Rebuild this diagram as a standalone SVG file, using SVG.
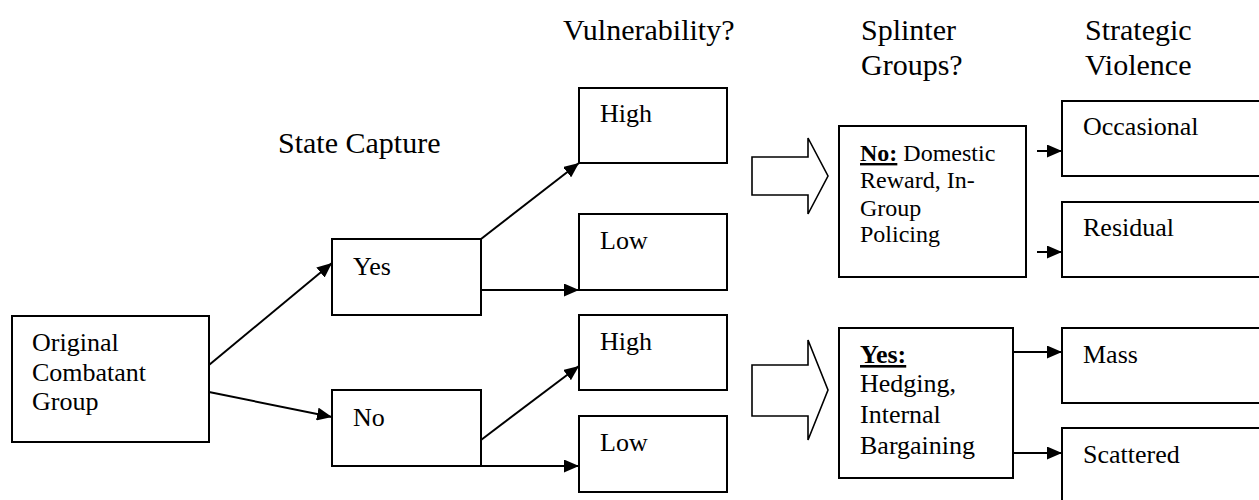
<svg xmlns="http://www.w3.org/2000/svg" width="1259" height="500" viewBox="0 0 1259 500" font-family="'Liberation Serif', 'DejaVu Serif', serif">
  <style>
    .box { fill: #fff; stroke: #000; stroke-width: 2; }
    .bigarrow { fill: #fff; stroke: #000; stroke-width: 1.6; stroke-linejoin: miter; }
    .conn { fill: none; stroke: #000; stroke-width: 2; marker-end: url(#head); }
    text { fill: #000; }
    .hd { font-size: 30px; }
    .lb { font-size: 26px; }
    .sm { font-size: 24px; }
    .key { font-weight: bold; text-decoration: underline; }
  </style>
  <defs>
    <marker id="head" markerUnits="userSpaceOnUse" markerWidth="16" markerHeight="13" refX="15" refY="6.5" orient="auto">
      <path d="M0,0 L15,6.5 L0,13 z" fill="#000"/>
    </marker>
  </defs>

  <!-- column headings -->
  <g id="headings">
    <text class="hd" x="278" y="153">State Capture</text>
    <text class="hd" x="563" y="40">Vulnerability?</text>
    <text class="hd" x="861" y="40">Splinter</text>
    <text class="hd" x="861" y="75">Groups?</text>
    <text class="hd" x="1085" y="40">Strategic</text>
    <text class="hd" x="1085" y="75">Violence</text>
  </g>

  <!-- connectors -->
  <g id="connectors">
    <line class="conn" x1="209" y1="365" x2="332" y2="263"/>
    <line class="conn" x1="209" y1="392" x2="332" y2="417"/>
    <line class="conn" x1="481" y1="239" x2="579" y2="163"/>
    <line class="conn" x1="481" y1="290" x2="579" y2="290"/>
    <line class="conn" x1="481" y1="440" x2="579" y2="366"/>
    <line class="conn" x1="481" y1="466" x2="579" y2="466"/>
    <polygon class="bigarrow" points="752,157 808,157 808,138 828,176 808,214 808,195 752,195"/>
    <polygon class="bigarrow" points="752,365 808,365 808,340 828,390 808,440 808,416 752,416"/>
    <line class="conn" x1="1037" y1="151" x2="1062" y2="151"/>
    <line class="conn" x1="1037" y1="252" x2="1062" y2="252"/>
    <line class="conn" x1="1013" y1="352" x2="1062" y2="352"/>
    <line class="conn" x1="1013" y1="453" x2="1062" y2="453"/>
  </g>

  <g id="original">
    <rect class="box" x="12" y="316" width="197" height="126"/>
    <text class="lb" x="32" y="351">Original</text>
    <text class="lb" x="32" y="381">Combatant</text>
    <text class="lb" x="32" y="410">Group</text>
  </g>

  <g id="capture-yes">
    <rect class="box" x="332" y="239" width="149" height="76"/>
    <text class="lb" x="353" y="275">Yes</text>
  </g>
  <g id="capture-no">
    <rect class="box" x="332" y="390" width="149" height="76"/>
    <text class="lb" x="353" y="426">No</text>
  </g>

  <g id="yes-high">
    <rect class="box" x="579" y="88" width="148" height="75"/>
    <text class="lb" x="600" y="122">High</text>
  </g>
  <g id="yes-low">
    <rect class="box" x="579" y="214" width="148" height="76"/>
    <text class="lb" x="600" y="249">Low</text>
  </g>
  <g id="no-high">
    <rect class="box" x="579" y="315" width="148" height="75"/>
    <text class="lb" x="600" y="350">High</text>
  </g>
  <g id="no-low">
    <rect class="box" x="579" y="416" width="148" height="76"/>
    <text class="lb" x="600" y="451">Low</text>
  </g>

  <g id="splinter-no">
    <rect class="box" x="839" y="126" width="187" height="151"/>
    <text class="sm" x="860" y="161"><tspan class="key">No:</tspan> Domestic</text>
    <text class="sm" x="860" y="188">Reward, In-</text>
    <text class="sm" x="860" y="216">Group</text>
    <text class="sm" x="860" y="242">Policing</text>
  </g>
  <g id="splinter-yes">
    <rect class="box" x="839" y="328" width="174" height="150"/>
    <text class="lb" x="860" y="363"><tspan class="key">Yes:</tspan></text>
    <text class="lb" x="860" y="392">Hedging,</text>
    <text class="lb" x="860" y="423">Internal</text>
    <text class="lb" x="860" y="454">Bargaining</text>
  </g>

  <g id="occasional">
    <rect class="box" x="1062" y="101" width="210" height="75"/>
    <text class="lb" x="1083" y="135">Occasional</text>
  </g>
  <g id="residual">
    <rect class="box" x="1062" y="202" width="210" height="75"/>
    <text class="lb" x="1083" y="236">Residual</text>
  </g>
  <g id="mass">
    <rect class="box" x="1062" y="328" width="210" height="75"/>
    <text class="lb" x="1083" y="363">Mass</text>
  </g>
  <g id="scattered">
    <rect class="box" x="1062" y="428" width="210" height="80"/>
    <text class="lb" x="1083" y="463">Scattered</text>
  </g>
</svg>
